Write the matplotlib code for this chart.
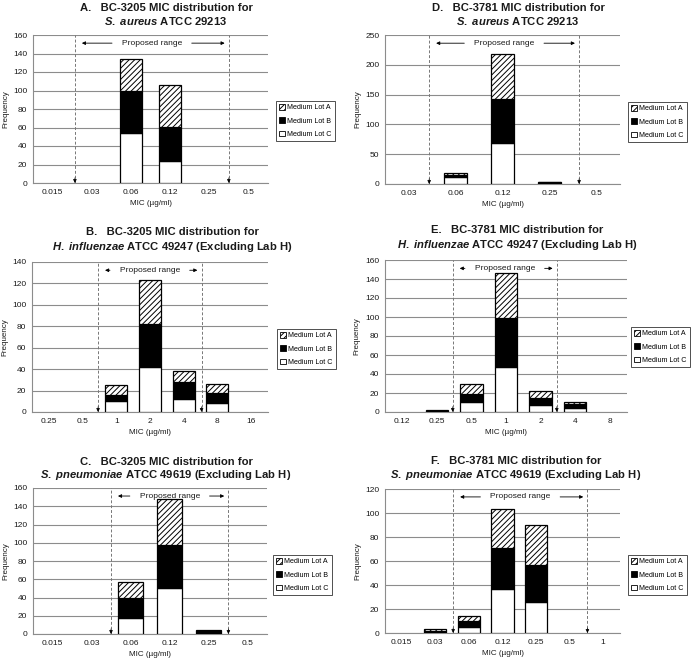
import numpy as np
import matplotlib
matplotlib.use('Agg')
import matplotlib.pyplot as plt
from matplotlib.patches import Patch

plt.rcParams['font.family'] = ['Liberation Sans', 'DejaVu Sans']
plt.rcParams['mathtext.fontset'] = 'custom'
plt.rcParams['mathtext.it'] = 'Liberation Sans:italic:bold'
plt.rcParams['mathtext.rm'] = 'Liberation Sans:bold'
plt.rcParams['hatch.linewidth'] = 0.7

# Panel A: BC-3205, S. aureus
mic_a = ['0.015', '0.03', '0.06', '0.12', '0.25', '0.5']
a_lot_a = [0, 0, 35, 45, 0, 0]
a_lot_b = [0, 0, 45, 37, 0, 0]
a_lot_c = [0, 0, 54, 24, 0, 0]

# Panel B: BC-3205, H. influenzae
mic_b = ['0.25', '0.5', '1', '2', '4', '8', '16']
b_lot_a = [0, 0, 9, 41, 10, 8, 0]
b_lot_b = [0, 0, 6, 40, 16, 10, 0]
b_lot_c = [0, 0, 10, 42, 12, 8, 0]

# Panel C: BC-3205, S. pneumoniae
mic_c = ['0.015', '0.03', '0.06', '0.12', '0.25', '0.5']
c_lot_a = [0, 0, 17, 51, 1, 0]
c_lot_b = [0, 0, 23, 47, 3, 0]
c_lot_c = [0, 0, 17, 50, 0, 0]

# Panel D: BC-3781, S. aureus
mic_d = ['0.03', '0.06', '0.12', '0.25', '0.5']
d_lot_a = [0, 3, 75, 1, 0]
d_lot_b = [0, 3, 75, 3, 0]
d_lot_c = [0, 12, 68, 0, 0]

# Panel E: BC-3781, H. influenzae
mic_e = ['0.12', '0.25', '0.5', '1', '2', '4', '8']
e_lot_a = [0, 1, 11, 47, 7, 3, 0]
e_lot_b = [0, 1, 8, 52, 8, 4, 0]
e_lot_c = [0, 0, 11, 47, 7, 4, 0]

# Panel F: BC-3781, S. pneumoniae
mic_f = ['0.015', '0.03', '0.06', '0.12', '0.25', '0.5', '1']
f_lot_a = [0, 1, 4, 32, 33, 0, 0]
f_lot_b = [0, 2, 5, 34, 31, 0, 0]
f_lot_c = [0, 0, 5, 37, 26, 0, 0]

W, H = 691, 663
fig = plt.figure(figsize=(W / 100, H / 100), dpi=100)

GRID = '#8c8c8c'
TXT = '#1a1a1a'

panels = [
    # title lines, mic, lots, ymax, ystep, range bounds, bar width, axes box px (l, r, t, b), legend (x, yc), title x, title y
    dict(t1='A.   BC-3205 MIC distribution for',
         t2=r'$\mathit{S.\ aureus}$ ATCC 29213',
         mic=mic_a, lots=(a_lot_a, a_lot_b, a_lot_c), ymax=160, ystep=20,
         rng=(0.57, 4.5), bw=0.55, box=(33, 268, 35, 183), leg=(276, 121),
         tx=166, ty=(8, 21)),
    dict(t1='D.   BC-3781 MIC distribution for',
         t2=r'$\mathit{S.\ aureus}$ ATCC 29213',
         mic=mic_d, lots=(d_lot_a, d_lot_b, d_lot_c), ymax=250, ystep=50,
         rng=(0.44, 3.63), bw=0.5, box=(385, 620, 35, 184), leg=(628, 122),
         tx=518, ty=(8, 21)),
    dict(t1='B.   BC-3205 MIC distribution for',
         t2=r'$\mathit{H.\ influenzae}$ ATCC 49247 (Excluding Lab H)',
         mic=mic_b, lots=(b_lot_a, b_lot_b, b_lot_c), ymax=140, ystep=20,
         rng=(1.46, 4.53), bw=0.65, box=(32, 268, 262, 412), leg=(277, 349),
         tx=172, ty=(232, 247)),
    dict(t1='E.   BC-3781 MIC distribution for',
         t2=r'$\mathit{H.\ influenzae}$ ATCC 49247 (Excluding Lab H)',
         mic=mic_e, lots=(e_lot_a, e_lot_b, e_lot_c), ymax=160, ystep=20,
         rng=(1.46, 4.47), bw=0.65, box=(385, 627, 260, 412), leg=(631, 347),
         tx=517, ty=(230, 245)),
    dict(t1='C.   BC-3205 MIC distribution for',
         t2=r'$\mathit{S.\ pneumoniae}$ ATCC 49619 (Excluding Lab H)',
         mic=mic_c, lots=(c_lot_a, c_lot_b, c_lot_c), ymax=160, ystep=20,
         rng=(1.5, 4.51), bw=0.65, box=(33, 267, 488, 634), leg=(273, 575),
         tx=166, ty=(462, 475)),
    dict(t1='F.   BC-3781 MIC distribution for',
         t2=r'$\mathit{S.\ pneumoniae}$ ATCC 49619 (Excluding Lab H)',
         mic=mic_f, lots=(f_lot_a, f_lot_b, f_lot_c), ymax=120, ystep=20,
         rng=(1.53, 5.53), bw=0.66, box=(385, 620, 489, 633), leg=(628, 575),
         tx=516, ty=(461, 475)),
]

styles = [
    dict(label='Medium Lot A', facecolor='white', hatch='//////'),
    dict(label='Medium Lot B', facecolor='black', hatch=None),
    dict(label='Medium Lot C', facecolor='white', hatch=None),
]

for p in panels:
    l, r, t, b = p['box']
    ax = fig.add_axes([l / W, 1 - b / H, (r - l) / W, (b - t) / H])
    x = np.arange(len(p['mic']))
    lot_a, lot_b, lot_c = [np.array(v, dtype=float) for v in p['lots']]

    # stack: C at bottom, then B, then A on top
    for vals, bottom, st in [(lot_c, 0, styles[2]),
                             (lot_b, lot_c, styles[1]),
                             (lot_a, lot_c + lot_b, styles[0])]:
        mask = vals > 0
        ax.bar(x[mask], vals[mask], width=p['bw'], bottom=np.broadcast_to(bottom, vals.shape)[mask],
               facecolor=st['facecolor'], edgecolor='black', hatch=st['hatch'],
               linewidth=0.9, zorder=3)

    ax.set_xlim(-0.5, len(x) - 0.5)
    ax.set_ylim(0, p['ymax'])
    ax.set_yticks(np.arange(0, p['ymax'] + 1, p['ystep']))
    ax.set_xticks(x)
    ax.set_xticklabels(p['mic'])
    ax.tick_params(length=0, labelsize=6, colors=TXT, pad=4)
    ax.yaxis.grid(True, color=GRID, linewidth=0.8, zorder=0)
    ax.set_axisbelow(True)
    for s in ['top', 'right']:
        ax.spines[s].set_visible(False)
    for s in ['left', 'bottom']:
        ax.spines[s].set_color(GRID)
        ax.spines[s].set_linewidth(0.8)
    ax.set_ylabel('Frequency', fontsize=5.8, color=TXT)
    ax.yaxis.set_label_coords(-0.1, 0.5)
    ax.set_xlabel('MIC (\u00b5g/ml)', fontsize=5.8, color=TXT, labelpad=3)

    # proposed range
    lo, hi = p['rng']
    for xv in (lo, hi):
        ax.plot([xv, xv], [0, p['ymax']], ls=(0, (3, 2)), color='#777777', lw=0.7, zorder=2)
        ax.annotate('', xy=(xv, 0), xytext=(xv, p['ymax'] * 0.035),
                    arrowprops=dict(arrowstyle='-|>', color='black', lw=0.5,
                                    mutation_scale=5, shrinkA=0, shrinkB=0), zorder=4)
    ym = p['ymax'] * 0.945
    mid = (lo + hi) / 2
    ax.annotate('Proposed range', xy=(lo, ym), xytext=(mid, ym), ha='center', va='center',
                fontsize=6, color=TXT,
                arrowprops=dict(arrowstyle='-|>', color='black', lw=0.6, mutation_scale=5,
                                shrinkA=5, shrinkB=5))
    ax.annotate('Proposed range', xy=(hi, ym), xytext=(mid, ym), ha='center', va='center',
                fontsize=6, color='none',
                arrowprops=dict(arrowstyle='-|>', color='black', lw=0.6, mutation_scale=5,
                                shrinkA=5, shrinkB=3))

    handles = [Patch(facecolor=st['facecolor'], edgecolor='black', hatch=st['hatch'],
                     linewidth=0.6, label=st['label']) for st in styles]
    lx, lyc = p['leg']
    ax.legend(handles=handles, loc='center left', bbox_to_anchor=(lx / W, 1 - lyc / H),
              bbox_transform=fig.transFigure, fontsize=5.1, frameon=True, fancybox=False,
              edgecolor='black', handlelength=0.8, handleheight=0.8, handletextpad=0.3,
              labelspacing=0.85, borderpad=0.45, borderaxespad=0)
    ax.get_legend().get_frame().set_linewidth(0.6)

    fig.text(p['tx'] / W, 1 - p['ty'][0] / H, p['t1'], ha='center', va='center',
             fontsize=8.1, fontweight='bold', color=TXT)
    fig.text(p['tx'] / W, 1 - p['ty'][1] / H, p['t2'], ha='center', va='center',
             fontsize=8.1, fontweight='bold', color=TXT)

fig.savefig('out.png', dpi=100)
